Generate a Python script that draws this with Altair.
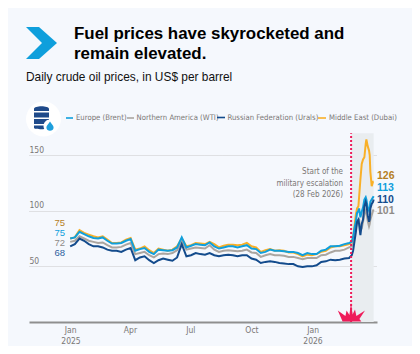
import altair as alt
import pandas as pd

weeks = pd.date_range("2025-01-01", "2026-02-25", freq="7D").strftime("%Y-%m-%d").tolist()
war = ["2026-03-01","2026-03-03","2026-03-05","2026-03-07","2026-03-09","2026-03-11","2026-03-12","2026-03-14",
       "2026-03-16","2026-03-18","2026-03-20","2026-03-22","2026-03-23","2026-03-25","2026-03-27","2026-03-28",
       "2026-03-29","2026-03-31","2026-04-02","2026-04-03"]
dates = weeks + war

brent = [75,76,81,79,77,75.5,75,76,73,70.5,70.5,71,73,74.5,64,65.5,66.5,63,61,65,64.5,64,64.5,67,76,67,68.5,70,69.5,69,71.5,68,66,67,68,68,67,68,69,66,65.5,62,63,65,64,64,63.5,63,63,62,60,62,61,61,64,65,68,68,68.5,70,71,
         72,76,84,90,98,100,102,94,99,103,110,112,110,103,100,102,108,110,112,113]
dubai = [75,76,82.5,80,78.5,77,76,77,74,71,71,71.5,74,75.5,65,66,68,64.5,62,66,65,64,65,68,75,68,69,71,70.5,70,72,70,67,68.5,69.5,69.5,69,69.5,71,68,67,63,64.5,65.5,64,64.5,64,62.5,62.5,61,59,60.5,60,61,63,64,67,68,68,69,70,
         72,76,85,96,102,104,112,128,142,146,148,160,164,158,154,150,135,122,126,126]
wti = [72,73,77,75,73,72,71,71.5,69,67,67,67.5,69.5,71,61,62,63,60,58,61,61.5,61,62,64.5,73,65,66,67,66.5,66,69,65,63,64,64.5,64,63.5,64,65,62.5,62,58.5,60,61,60,60,59.5,58.5,58.5,57.5,56.5,57.5,57.5,57.5,60,60.5,62.5,64,64,65,67,
       68,71,77,84,90,92,92,82,84,90,97,100,98,91,86,88,92,96,100,101]
urals = [68,70,75,73,70,68,68,67,65,64,64,63,65,66.5,55.5,58,59,55.5,53,55.5,57,56,55,58,70,59,60,62,61,60.5,62,60,59,60,60.5,60,59,60,60,57,56,53,54,54.5,54,53,52.5,52,52,50,49.5,50,50,51,54,54.5,56,55.5,56,57,57.5,
         60,64,72,80,90,92,88,78,88,92,104,108,106,96,90,92,102,106,108,110]

df = pd.DataFrame({"date": dates, "Brent": brent, "Dubai": dubai, "WTI": wti, "Urals": urals})

BG = "#f5f8fd"
BLUE, GREY, NAVY, ORANGE = "#0f9fdc", "#aaa5a0", "#134b8c", "#f9b027"
RED = "#ee1c5a"
TXT = "#7a7775"
NARROW = "DejaVu Sans Condensed"
SANS = "Liberation Sans"
W, H = 348, 192
OX, OY = 29, 130
X_DOM = ["2024-10-31", "2026-04-08"]
Y_DOM = [0, 172.5]
blank = alt.Data(values=[{}])

xs = alt.Scale(domain=X_DOM)
ys = alt.Scale(domain=Y_DOM)


def text(s, x, y, size=7.7, color=TXT, font=NARROW, weight="normal", align="left"):
    return alt.Chart(blank).mark_text(text=s, font=font, fontSize=size, color=color, fontWeight=weight,
                                      align=align, baseline="middle").encode(
        x=alt.value(x - OX), y=alt.value(y - OY))


def shape(path, x, y, color, scale=20):
    return alt.Chart(blank).mark_point(shape=path, size=(2 * scale) ** 2, filled=True, color=color,
                                       opacity=1, strokeWidth=0).encode(
        x=alt.value(x - OX), y=alt.value(y - OY))


def dash(x1, x2, y, color):
    return alt.Chart(blank).mark_rule(color=color, strokeWidth=1.6).encode(
        x=alt.value(x1 - OX), x2=alt.value(x2 - OX), y=alt.value(y - OY))


base_axes = alt.Chart(pd.DataFrame({"date": ["2025-01-01"], "v": [0]})).mark_point(opacity=0).encode(
    x=alt.X("date:T", scale=xs, title=None, axis=alt.Axis(
        values=["2025-01-01T00:00:00", "2025-04-01T00:00:00", "2025-07-01T00:00:00", "2025-10-01T00:00:00", "2026-01-01T00:00:00"],
        format="%b", grid=False, ticks=False, domainColor="#8f8f8f", domainWidth=2,
        labelFont=NARROW, labelFontSize=8.5, labelColor=TXT, labelPadding=3)),
    y=alt.Y("v:Q", scale=ys, title=None, axis=alt.Axis(
        values=[50, 100, 150], domain=False, ticks=False, tickSize=0, grid=True, gridColor="#c9c9c9",
        gridDash=[1, 1], gridWidth=1, labelAlign="left", labelBaseline="bottom", labelPadding=0,
        labelFont=NARROW, labelFontSize=8.5, labelColor=TXT, labelOffset=-1)),
)

band = alt.Chart(pd.DataFrame({"a": ["2026-02-28"], "b": ["2026-04-03"], "lo": [0], "hi": [169.5]})).mark_rect(
    color="#e9edf0").encode(x=alt.X("a:T", scale=xs), x2="b:T", y=alt.Y("lo:Q", scale=ys), y2="hi:Q")


def series(col, color):
    return alt.Chart(df).mark_line(color=color, strokeWidth=2, interpolate="linear").encode(
        x=alt.X("date:T", scale=xs), y=alt.Y(f"{col}:Q", scale=ys))


vline = alt.Chart(pd.DataFrame({"a": ["2026-02-28"], "lo": [0], "hi": [169.5]})).mark_rule(
    color=RED, strokeWidth=2, strokeDash=[2, 2]).encode(x=alt.X("a:T", scale=xs), y=alt.Y("lo:Q", scale=ys), y2="hi:Q")

chevron = "M-.7,-.8 L-.05,-.8 L.85,0 L-.05,.8 L-.7,.8 L.1,0 Z"
circle = "M-1,0 A1,1 0 1,1 1,0 A1,1 0 1,1 -1,0 Z"
barrel = ("M-.45,-.5 C-.45,-.68 .3,-.68 .3,-.5 L.3,-.4 L-.45,-.4 Z "
          "M-.45,-.33 L.3,-.33 L.3,-.08 L-.45,-.08 Z M-.45,0 L.3,0 L.3,.25 L-.45,.25 Z "
          "M-.45,.32 L.3,.32 L.3,.45 C.3,.53 -.45,.53 -.45,.45 Z")
drop = "M0,-.75 C.25,-.3 .6,-.1 .6,.25 C.6,.6 .3,.8 0,.8 C-.3,.8 -.6,.6 -.6,.25 C-.6,-.1 -.25,-.3 0,-.75 Z"
star = ("M-.42,0 L-.66,-.55 L-.28,-.28 L-.22,-.55 L-.08,-.32 L0,-.95 L.08,-.35 L.2,-.6 L.27,-.28 L.7,-.55 L.42,-.12 L.52,0 Z")

chart = alt.layer(
    base_axes,
    band,
    series("Dubai", ORANGE),
    series("WTI", GREY),
    series("Brent", BLUE),
    series("Urals", NAVY),
    vline,
    shape(star, 351, 321.5, RED),
    shape(chevron, 40, 43, BLUE),
    text("Fuel prices have skyrocketed and", 74, 34, 16.9, "#000000", SANS, "bold"),
    text("remain elevated.", 74, 54, 16.9, "#000000", SANS, "bold"),
    text("Daily crude oil prices, in US$ per barrel", 26, 77, 11.9, "#111111", SANS),
    shape(circle, 43.5, 119, "#ffffff", 17.5),
    shape(barrel, 43, 119, "#1f4a8a", 20),
    shape(circle, 50, 126, "#ffffff", 6.5),
    shape(drop, 50, 126, "#1f9fdc", 6),
    dash(66, 73, 118, BLUE), text("Europe (Brent)", 76, 118),
    dash(127, 134, 118, GREY), text("Northern America (WTI)", 136.5, 118),
    dash(217, 225, 117.5, NAVY), text("Russian Federation (Urals)", 227.5, 117.5),
    dash(318, 326, 118, ORANGE), text("Middle East (Dubai)", 329, 118),
    text("75", 65, 223, 9.5, "#b5801f", SANS, align="right"),
    text("75", 65, 233, 9.5, BLUE, SANS, align="right"),
    text("72", 65, 243, 9.5, "#8f8b87", SANS, align="right"),
    text("68", 65, 253, 9.5, "#2c5f9e", SANS, align="right"),
    text("126", 377, 175.5, 10.5, "#b5801f", SANS, "bold"),
    text("113", 377, 188, 10.5, BLUE, SANS, "bold"),
    text("110", 377, 199.5, 10.5, NAVY, SANS, "bold"),
    text("101", 377, 211, 10.5, "#8f8b87", SANS, "bold"),
    text("Start of the", 343, 172, 8, align="right"),
    text("military escalation", 343, 183.5, 8, align="right"),
    text("(28 Feb 2026)", 343, 195, 8, align="right"),
    text("2025", 71, 340.5, 8.5, align="center"),
    text("2026", 313, 340.5, 8.5, align="center"),
).properties(
    width=W, height=H, background=BG,
    padding={"left": OX - 8, "top": OY - 8, "right": 35, "bottom": 24},
    autosize=alt.AutoSizeParams(type="none"),
).configure_view(strokeWidth=0)

chart.save("out.html", embed_options={"renderer": "svg", "actions": False})
